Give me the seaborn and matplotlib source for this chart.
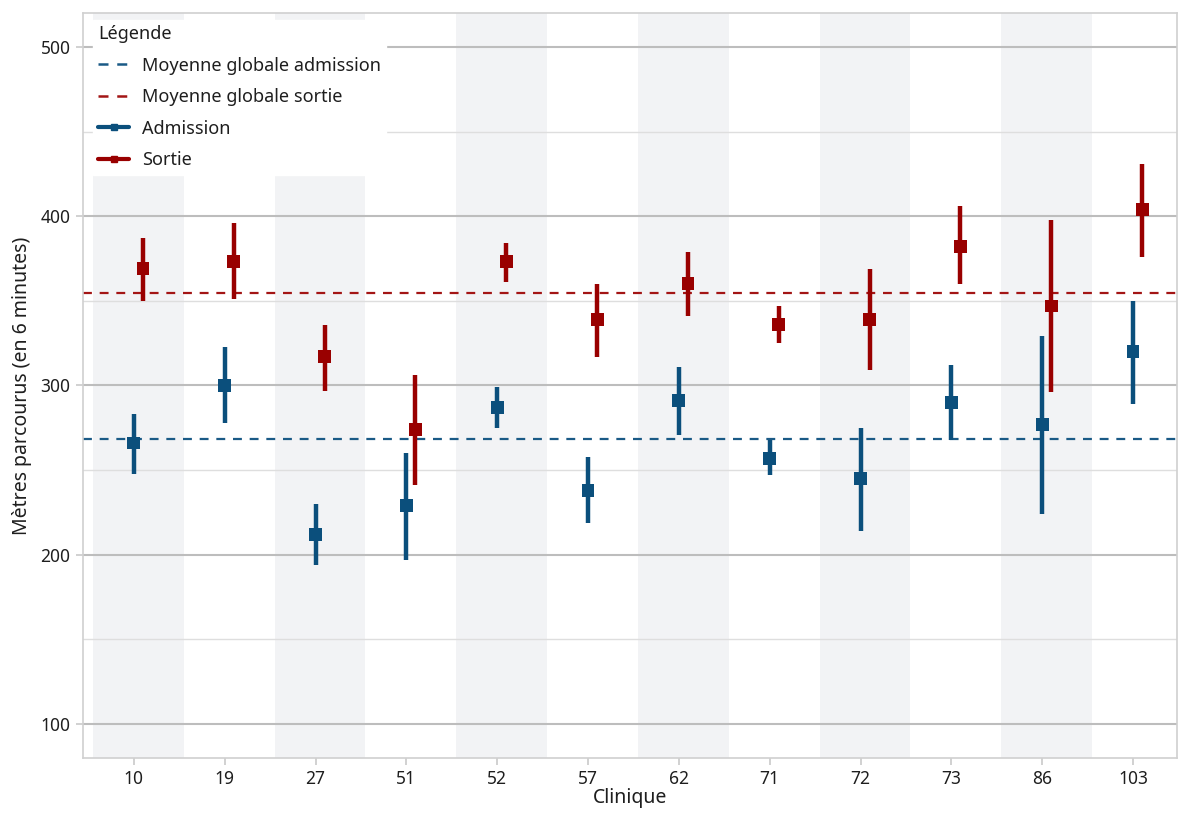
import seaborn as sns
import matplotlib.pyplot as plt
from matplotlib.lines import Line2D
from matplotlib.ticker import MultipleLocator
import numpy as np
import pandas as pd

cliniques = ["10", "19", "27", "51", "52", "57", "62", "71", "72", "73", "86", "103"]

adm_moy = [266, 300, 212, 229, 287, 238, 291, 257, 245, 290, 277, 320]
adm_bas = [248, 278, 194, 197, 275, 219, 271, 247, 214, 268, 224, 289]
adm_haut = [283, 323, 230, 260, 299, 258, 311, 268, 275, 312, 329, 350]

sor_moy = [369, 373, 317, 274, 373, 339, 360, 336, 339, 382, 347, 404]
sor_bas = [350, 351, 297, 241, 361, 317, 341, 325, 309, 360, 296, 376]
sor_haut = [387, 396, 336, 306, 384, 360, 379, 347, 369, 406, 398, 431]

moy_globale_adm = 268.4
moy_globale_sor = 354.7

bleu = "#0b4f7c"
rouge = "#990000"

sns.set_theme(style="white")
plt.rcParams["font.family"] = ["Noto Sans", "DejaVu Sans"]
plt.rcParams["text.color"] = "#1e1e1e"
plt.rcParams["axes.labelcolor"] = "#1e1e1e"
plt.rcParams["xtick.color"] = "#1e1e1e"
plt.rcParams["ytick.color"] = "#1e1e1e"

df = pd.DataFrame({
    "clinique": cliniques * 2,
    "moy": adm_moy + sor_moy,
    "bas": adm_bas + sor_bas,
    "haut": adm_haut + sor_haut,
    "temps": ["Admission"] * 12 + ["Sortie"] * 12,
})
df["pos"] = list(np.arange(12)) + list(np.arange(12) + 0.1)

fig, ax = plt.subplots(figsize=(11.79, 8.13), dpi=100)
fig.subplots_adjust(left=0.0704, right=0.998, bottom=0.0677, top=0.984)

# bandes grises une clinique sur deux
for i in range(0, 12, 2):
    ax.axvspan(i - 0.45, i + 0.55, color="#f2f3f5", zorder=0, lw=0)

ax.yaxis.set_major_locator(MultipleLocator(100))
ax.yaxis.set_minor_locator(MultipleLocator(50))
ax.grid(which="major", axis="y", color="#bdbdbd", lw=1.5, zorder=1)
ax.grid(which="minor", axis="y", color="#dedede", lw=1.0, zorder=1)
ax.grid(False, axis="x")

ax.axhline(moy_globale_adm, color="#1a5a86", ls=(0, (4, 3.5)), lw=1.6, zorder=2)
ax.axhline(moy_globale_sor, color="#a31515", ls=(0, (4, 3.5)), lw=1.6, zorder=2)

for temps, couleur in [("Admission", bleu), ("Sortie", rouge)]:
    d = df[df["temps"] == temps]
    ax.vlines(d["pos"], d["bas"], d["haut"], color=couleur, lw=3.2, zorder=3)

sns.scatterplot(data=df, x="pos", y="moy", hue="temps", palette=[bleu, rouge],
                marker="s", s=85, linewidth=0, ax=ax, legend=False, zorder=4)

ax.set_xlim(-0.56, 11.48)
ax.set_ylim(80, 520)
ax.set_xticks(np.arange(12))
ax.set_xticklabels(cliniques, size=12.5)
ax.tick_params(axis="y", labelsize=12.5)
ax.tick_params(axis="both", which="major", length=5, color="#cccccc", bottom=True, left=True, pad=4)
ax.tick_params(axis="y", which="minor", length=0)

for s in ax.spines.values():
    s.set_color("#d0d0d0")
    s.set_linewidth(1.2)

ax.set_xlabel("Clinique", size=14, labelpad=0)
ax.set_ylabel("Mètres parcourus (en 6 minutes)", size=14, labelpad=6)

poignees = [
    Line2D([], [], color="#1a5a86", ls=(0, (4, 3.5)), lw=1.8),
    Line2D([], [], color="#a31515", ls=(0, (4, 3.5)), lw=1.8),
    Line2D([], [], color=bleu, lw=3, marker="s", ms=5),
    Line2D([], [], color=rouge, lw=3, marker="s", ms=5),
]
noms = ["Moyenne globale admission", "Moyenne globale sortie", "Admission", "Sortie"]
leg = ax.legend(poignees, noms, title="Légende", loc="upper left",
                bbox_to_anchor=(0.009, 0.991), fontsize=13, title_fontsize=13,
                frameon=True, facecolor="white", edgecolor="white",
                framealpha=1, fancybox=False, handlelength=1.7, handletextpad=0.7,
                labelspacing=0.75, alignment="left", borderpad=0.3, borderaxespad=0)
leg.get_title().set_fontweight("medium")
leg.set_zorder(10)

fig.savefig("out.png", dpi=100)
